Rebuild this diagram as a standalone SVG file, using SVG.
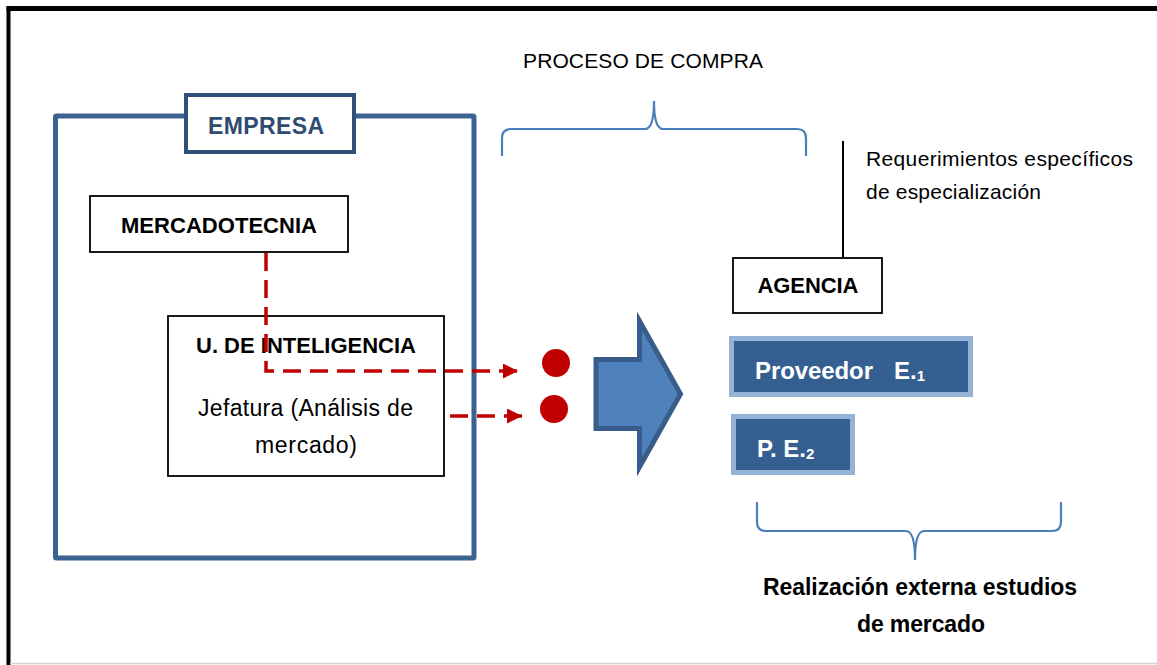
<svg xmlns="http://www.w3.org/2000/svg" width="1157" height="665" viewBox="0 0 1157 665">
<style>
.t{font-family:"Liberation Sans",Arial,sans-serif;fill:#000}
.b{font-weight:bold}
.box{fill:#fff;stroke:#000;stroke-width:1.8}
.brace{fill:none;stroke:#4a7ebb;stroke-width:2.2}
.dash{fill:none;stroke:#c00000;stroke-width:3.5;stroke-dasharray:18 9}
.prov{fill:#365f91;stroke:#95b3d7;stroke-width:5}
.w{fill:#fff;font-weight:bold}
</style>
<defs>
<marker id="ah" markerWidth="15" markerHeight="15" refX="15" refY="7.5" orient="auto" markerUnits="userSpaceOnUse">
<path d="M0,0 L15,7.5 L0,15 Z" fill="#c00000"/>
</marker>
</defs>
<rect x="0" y="0" width="1157" height="665" fill="#fff"/>
<g id="frame">
<line x1="8.5" y1="6" x2="8.5" y2="665" stroke="#000" stroke-width="4"/>
<line x1="6.5" y1="8.5" x2="1157" y2="8.5" stroke="#000" stroke-width="5"/>
<line x1="10" y1="663.5" x2="1157" y2="663.5" stroke="#d4d4d4" stroke-width="1.5"/>
</g>
<g id="empresa">
<rect x="55.5" y="116" width="418.5" height="442" fill="none" stroke="#3c6291" stroke-width="5" rx="1"/>
<rect x="186" y="95" width="168" height="57" fill="#fff" stroke="#2f5078" stroke-width="4"/>
<text class="t b" x="266" y="134" font-size="23" text-anchor="middle" style="fill:#2f4b70" textLength="116">EMPRESA</text>
</g>
<g id="mercadotecnia">
<rect class="box" x="90" y="196" width="258" height="56"/>
<text class="t b" x="219" y="233" font-size="22" text-anchor="middle" textLength="196">MERCADOTECNIA</text>
</g>
<g id="inteligencia">
<rect class="box" x="168" y="316" width="276" height="160"/>
<text class="t b" x="306" y="353" font-size="22" text-anchor="middle" textLength="220">U. DE INTELIGENCIA</text>
<text class="t" x="305.5" y="416" font-size="23" text-anchor="middle" textLength="215">Jefatura (Análisis de</text>
<text class="t" x="306" y="453" font-size="23" text-anchor="middle" textLength="102">mercado)</text>
</g>
<g id="dots">
<circle cx="556" cy="363" r="14" fill="#c00000"/>
<circle cx="554" cy="409" r="14" fill="#c00000"/>
</g>
<g id="big-arrow">
<polygon points="596,359.5 639.5,359.5 639.5,321 680.5,394 639.5,467 639.5,428.5 596,428.5" fill="#4f81bd" stroke="#385d8a" stroke-width="5" stroke-linejoin="miter"/>
</g>
<g id="proceso">
<text class="t" x="523" y="68" font-size="21" textLength="240">PROCESO DE COMPRA</text>
<path class="brace" d="M502,156 L502,138 Q502,129 511,129 L645,129 Q654,129 654,101 Q654,129 663,129 L797,129 Q806,129 806,138 L806,156"/>
</g>
<g id="requerimientos">
<line x1="843" y1="141" x2="843" y2="257" stroke="#000" stroke-width="2"/>
<text class="t" x="866" y="166" font-size="21" textLength="267">Requerimientos específicos</text>
<text class="t" x="866" y="199" font-size="21" textLength="175">de especialización</text>
</g>
<g id="agencia">
<rect class="box" x="733" y="258" width="149" height="55" stroke-width="2.2"/>
<text class="t b" x="808" y="293" font-size="22" text-anchor="middle" textLength="101">AGENCIA</text>
</g>
<g id="proveedor1">
<rect class="prov" x="731.5" y="338.5" width="239" height="56"/>
<text class="t w" x="755" y="379" font-size="24" textLength="118">Proveedor</text>
<text class="t w" x="894" y="379" font-size="24">E.<tspan font-size="15" dy="2">1</tspan></text>
</g>
<g id="proveedor2">
<rect class="prov" x="733.5" y="416.5" width="119" height="56"/>
<text class="t w" x="757" y="457" font-size="24">P. E.<tspan font-size="15" dy="2">2</tspan></text>
</g>
<g id="realizacion">
<path class="brace" d="M757,502 L757,522 Q757,531 766,531 L906,531 Q915,531 915,560 Q915,531 924,531 L1052,531 Q1061,531 1061,522 L1061,502"/>
<text class="t b" x="920" y="595" font-size="23" text-anchor="middle" textLength="314">Realización externa estudios</text>
<text class="t b" x="921" y="632" font-size="23" text-anchor="middle" textLength="128">de mercado</text>
</g>
<g id="connectors">
<path class="dash" d="M266,253 L266,371 L518,371" marker-end="url(#ah)"/>
<path class="dash" d="M450,416 L522,416" marker-end="url(#ah)"/>
</g>
</svg>
